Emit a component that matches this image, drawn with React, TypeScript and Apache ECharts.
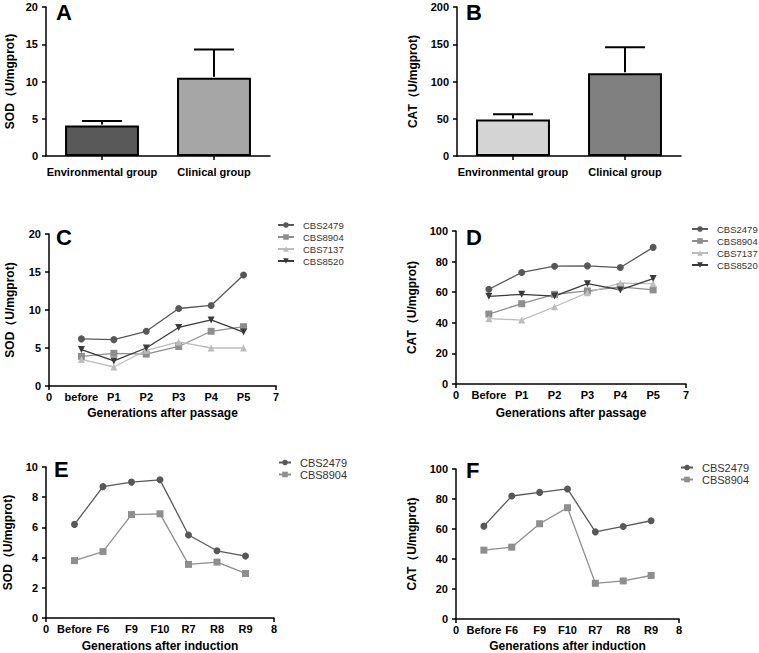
import React, { useEffect, useRef } from "react";
import * as echarts from "echarts";

const FONT = "'Liberation Sans', Arial, Helvetica, sans-serif";

// Panel A / B (bar charts)
const barCategories = ["Environmental group", "Clinical group"];
const sodMeans = [4.1, 10.5];
const sodErrTops = [4.7, 14.3];
const catMeans = [49, 111];
const catErrTops = [56, 146];

// Panels C / D (passage)
const passageLabelsC = ["0", "before", "P1", "P2", "P3", "P4", "P5", "7"];
const passageLabelsD = ["0", "Before", "P1", "P2", "P3", "P4", "P5", "7"];
const strainsCD = ["CBS2479", "CBS8904", "CBS7137", "CBS8520"];
const sodPassage2479 = [6.2, 6.1, 7.2, 10.2, 10.6, 14.6];
const sodPassage8904 = [3.9, 4.3, 4.2, 5.2, 7.2, 7.8];
const sodPassage7137 = [3.5, 2.5, 4.7, 5.8, 5.0, 5.0];
const sodPassage8520 = [4.8, 3.3, 5.0, 7.7, 8.7, 7.1];
const catPassage2479 = [61.9, 72.9, 77.0, 77.2, 76.1, 89.3];
const catPassage8904 = [45.7, 52.5, 58.6, 60.8, 63.5, 61.5];
const catPassage7137 = [42.7, 41.8, 50.5, 59.7, 65.9, 65.6];
const catPassage8520 = [57.3, 58.6, 57.5, 65.6, 61.5, 68.9];

// Panels E / F (induction)
const inductionLabels = ["0", "Before", "F6", "F9", "F10", "R7", "R8", "R9", "8"];
const strainsEF = ["CBS2479", "CBS8904"];
const sodInduction2479 = [6.2, 8.7, 9.0, 9.15, 5.5, 4.45, 4.1];
const sodInduction8904 = [3.8, 4.4, 6.85, 6.9, 3.55, 3.7, 2.95];
const catInduction2479 = [61.9, 82.0, 84.4, 86.7, 58.1, 61.7, 65.5];
const catInduction8904 = [45.9, 47.9, 63.5, 74.2, 23.8, 25.4, 29.0];

// styles
const barColorsA = ["#595959", "#a6a6a6"];
const barColorsB = ["#d4d4d4", "#808080"];
const strainStyle: Record<string, { color: string; symbol: string }> = {
  CBS2479: { color: "#585858", symbol: "circle" },
  CBS8904: { color: "#8e8e8e", symbol: "rect" },
  CBS7137: { color: "#bdbdbd", symbol: "triangle" },
  CBS8520: { color: "#3a3a3a", symbol: "path://M0,0L10,0L5,9Z" },
};

const grids = [
  { left: 46, top: 7, width: 224, height: 149 },
  { left: 457, top: 7, width: 224, height: 149 },
  { left: 49, top: 234, width: 227, height: 152 },
  { left: 456, top: 231, width: 230, height: 153 },
  { left: 46, top: 467, width: 228, height: 151 },
  { left: 456, top: 469, width: 223, height: 150 },
];

const axisLine = { show: true, lineStyle: { color: "#000", width: 1.5 } };
const tickStyle = { show: true, length: 4, lineStyle: { color: "#000", width: 1.5 } };
const labelStyle = { color: "#000", fontFamily: FONT, fontWeight: "bold" as const, fontSize: 11 };
const nameStyle = { color: "#000", fontFamily: FONT, fontWeight: "bold" as const, fontSize: 12 };

function yAxis(gi: number, name: string, max: number, interval: number, gap: number) {
  return {
    type: "value",
    gridIndex: gi,
    min: 0,
    max,
    interval,
    name,
    nameLocation: "middle",
    nameGap: gap,
    nameTextStyle: nameStyle,
    axisLine,
    axisTick: tickStyle,
    axisLabel: { ...labelStyle, margin: 8 },
    splitLine: { show: false },
  };
}

function catXAxis(gi: number) {
  return {
    type: "category",
    gridIndex: gi,
    data: barCategories,
    axisLine,
    axisTick: { ...tickStyle, alignWithLabel: true },
    axisLabel: { ...labelStyle, margin: 10, interval: 0 },
  };
}

function valXAxis(gi: number, labels: string[], name: string, gap: number) {
  const max = labels.length - 1;
  return {
    type: "value",
    gridIndex: gi,
    min: 0,
    max,
    interval: 1,
    name,
    nameLocation: "middle",
    nameGap: gap,
    nameTextStyle: nameStyle,
    axisLine,
    axisTick: { ...tickStyle, customValues: [0, max] },
    axisLabel: {
      ...labelStyle,
      margin: 5,
      showMinLabel: true,
      showMaxLabel: true,
      formatter: (v: number) => labels[Math.round(v)] ?? "",
    },
    splitLine: { show: false },
  };
}

function barSeries(gi: number, means: number[], colors: string[]) {
  return {
    type: "bar",
    xAxisIndex: gi,
    yAxisIndex: gi,
    barWidth: "66%",
    data: means.map((v, i) => ({ value: v, itemStyle: { color: colors[i] } })),
    itemStyle: { borderColor: "#000", borderWidth: 2 },
    z: 2,
  };
}

function errSeries(gi: number, means: number[], tops: number[]) {
  return {
    type: "custom",
    xAxisIndex: gi,
    yAxisIndex: gi,
    z: 3,
    data: means.map((m, i) => [i, m, tops[i]]),
    renderItem: (params: any, api: any) => {
      const x = api.value(0);
      const base = api.coord([x, api.value(1)]);
      const top = api.coord([x, api.value(2)]);
      const st = { stroke: "#000", lineWidth: 2 };
      return {
        type: "group",
        children: [
          { type: "line", shape: { x1: base[0], y1: base[1] - 1, x2: top[0], y2: top[1] }, style: st },
          { type: "line", shape: { x1: top[0] - 20, y1: top[1], x2: top[0] + 20, y2: top[1] }, style: st },
        ],
      };
    },
  };
}

function lineSeries(gi: number, name: string, values: number[]) {
  const s = strainStyle[name];
  return {
    type: "line",
    name,
    xAxisIndex: gi,
    yAxisIndex: gi,
    data: values.map((v, i) => [i + 1, v]),
    symbol: s.symbol,
    symbolSize: 7,
    color: s.color,
    itemStyle: { color: s.color },
    lineStyle: { color: s.color, width: 1.3 },
  };
}

function legend(names: string[], left: number, top: number, fontSize: number, itemWidth: number, gap: number) {
  return {
    orient: "vertical",
    left,
    top,
    padding: 0,
    data: names,
    itemWidth,
    itemHeight: 7,
    itemGap: gap,
    selectedMode: false,
    textStyle: { color: "#333", fontFamily: FONT, fontSize, padding: [0, 0, 0, 4] },
  };
}

function letter(text: string, x: number, y: number) {
  return {
    type: "text",
    x,
    y,
    style: { text, fontFamily: FONT, fontWeight: "bold", fontSize: 22, fill: "#000", verticalAlign: "middle" },
  };
}

export default function App() {
  const ref = useRef<HTMLDivElement>(null);
  useEffect(() => {
    if (!ref.current) return;
    const chart = echarts.init(ref.current, undefined, { renderer: "svg" });
    const sodP = [sodPassage2479, sodPassage8904, sodPassage7137, sodPassage8520];
    const catP = [catPassage2479, catPassage8904, catPassage7137, catPassage8520];
    const sodI = [sodInduction2479, sodInduction8904];
    const catI = [catInduction2479, catInduction8904];
    const option: any = {
      animation: false,
      backgroundColor: "#fff",
      textStyle: { fontFamily: FONT },
      grid: grids.map((g) => ({ ...g, containLabel: false })),
      xAxis: [
        catXAxis(0),
        catXAxis(1),
        valXAxis(2, passageLabelsC, "Generations after passage", 21),
        valXAxis(3, passageLabelsD, "Generations after passage", 23),
        valXAxis(4, inductionLabels, "Generations after induction", 22),
        valXAxis(5, inductionLabels, "Generations after induction", 21),
      ],
      yAxis: [
        yAxis(0, "SOD（U/mgprot)", 20, 5, 30),
        yAxis(1, "CAT（U/mgprot)", 200, 50, 38),
        yAxis(2, "SOD（U/mgprot)", 20, 5, 33),
        yAxis(3, "CAT（U/mgprot)", 100, 20, 38),
        yAxis(4, "SOD（U/mgprot)", 10, 2, 32),
        yAxis(5, "CAT（U/mgprot)", 100, 20, 38),
      ],
      legend: [
        legend(strainsCD, 277, 220, 9.5, 16, 2),
        legend(strainsCD, 691, 224, 9.5, 16, 2),
        legend(strainsEF, 278, 457, 11, 12, 1),
        legend(strainsEF, 680, 462, 11, 12, 1),
      ],
      series: [
        barSeries(0, sodMeans, barColorsA),
        errSeries(0, sodMeans, sodErrTops),
        barSeries(1, catMeans, barColorsB),
        errSeries(1, catMeans, catErrTops),
        ...strainsCD.map((n, i) => lineSeries(2, n, sodP[i])),
        ...strainsCD.map((n, i) => lineSeries(3, n, catP[i])),
        ...strainsEF.map((n, i) => lineSeries(4, n, sodI[i])),
        ...strainsEF.map((n, i) => lineSeries(5, n, catI[i])),
      ],
      graphic: [
        letter("A", 56, 12),
        letter("B", 466, 12),
        letter("C", 56, 237),
        letter("D", 466, 237),
        letter("E", 54, 469),
        letter("F", 466, 470),
      ],
    };
    chart.setOption(option);
    return () => chart.dispose();
  }, []);
  return <div ref={ref} style={{ position: "absolute", left: 0, top: 0, width: 759, height: 653 }} />;
}
